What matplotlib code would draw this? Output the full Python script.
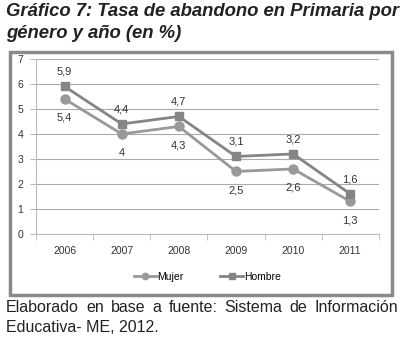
import matplotlib
matplotlib.use('Agg')
from matplotlib import pyplot as plt
from matplotlib.patches import Rectangle

years = ['2006', '2007', '2008', '2009', '2010', '2011']
mujer = [5.4, 4.0, 4.3, 2.5, 2.6, 1.3]
hombre = [5.9, 4.4, 4.7, 3.1, 3.2, 1.6]
mujer_lbl = ['5,4', '4', '4,3', '2,5', '2,6', '1,3']
hombre_lbl = ['5,9', '4,4', '4,7', '3,1', '3,2', '1,6']

plt.rcParams['font.family'] = ['Liberation Sans', 'DejaVu Sans']

fig = plt.figure(figsize=(4.06, 3.41), dpi=100)
ax = fig.add_axes([0.0887, 0.314, 0.8443, 0.513])

x = list(range(len(years)))
ax.plot(x, mujer, color='#999999', linewidth=2, marker='o', markersize=6.5, label='Mujer')
ax.plot(x, hombre, color='#858585', linewidth=2, marker='s', markersize=6, label='Hombre')

for i in x:
    ax.annotate(mujer_lbl[i], (i, mujer[i]), xytext=(0, -10), textcoords='offset points',
                ha='center', va='top', fontsize=8, color='#333333')
    ax.annotate(hombre_lbl[i], (i, hombre[i]), xytext=(0, 7), textcoords='offset points',
                ha='center', va='bottom', fontsize=8, color='#333333')

ax.set_xlim(-0.5, 5.5)
ax.set_ylim(0, 7)
ax.set_yticks(range(8))
ax.set_xticks(x)
ax.set_xticklabels(years)
ax.set_xticks([i - 0.5 for i in range(7)], minor=True)
ax.tick_params(axis='x', which='major', length=0, pad=9, labelsize=7.5, colors='#333333')
ax.tick_params(axis='x', which='minor', length=4, color='#bbbbbb', direction='out')
ax.tick_params(axis='y', length=4, color='#bbbbbb', labelsize=7.5, colors='#333333', pad=5)
ax.yaxis.grid(True, color='#aaaaaa', linewidth=0.8)
ax.set_axisbelow(True)
for s in ['top', 'right']:
    ax.spines[s].set_visible(False)
ax.spines['left'].set_color('#bbbbbb')
ax.spines['bottom'].set_color('#bbbbbb')

ax.legend(loc='center', bbox_to_anchor=(0.5, -0.245), ncol=2, frameon=False,
          fontsize=7.5, handlelength=2.2, columnspacing=3.5, handletextpad=0.1,
          markerscale=0.7)

fig.patches.append(Rectangle((10 / 406, 1 - 295 / 341), 382 / 406, 243 / 341,
                             transform=fig.transFigure, fill=False,
                             edgecolor='#8a8a8a', linewidth=2.5))

fig.text(6 / 406, 1 - 11 / 341, 'Gráfico 7: Tasa de abandono en Primaria por',
         fontsize=13.3, fontweight='bold', fontstyle='italic', va='center', color='#222222')
fig.text(6 / 406, 1 - 33 / 341, 'género y año (en %)',
         fontsize=13.3, fontweight='bold', fontstyle='italic', va='center', color='#222222')

# justified first line of the source note
words = 'Elaborado en base a fuente: Sistema de Información'.split()
renderer = fig.canvas.get_renderer()
objs = [fig.text(0, 1 - 307 / 341, w, fontsize=11.5, va='center', color='#222222') for w in words]
widths = [o.get_window_extent(renderer).width for o in objs]
left, right = 6.0, 398.0
gap = (right - left - sum(widths)) / (len(words) - 1)
pos = left
for o, w in zip(objs, widths):
    o.set_x(pos / 406)
    pos += w + gap
fig.text(6 / 406, 1 - 327 / 341, 'Educativa- ME, 2012.',
         fontsize=11.5, va='center', color='#222222')

fig.savefig('out.png', dpi=100)
